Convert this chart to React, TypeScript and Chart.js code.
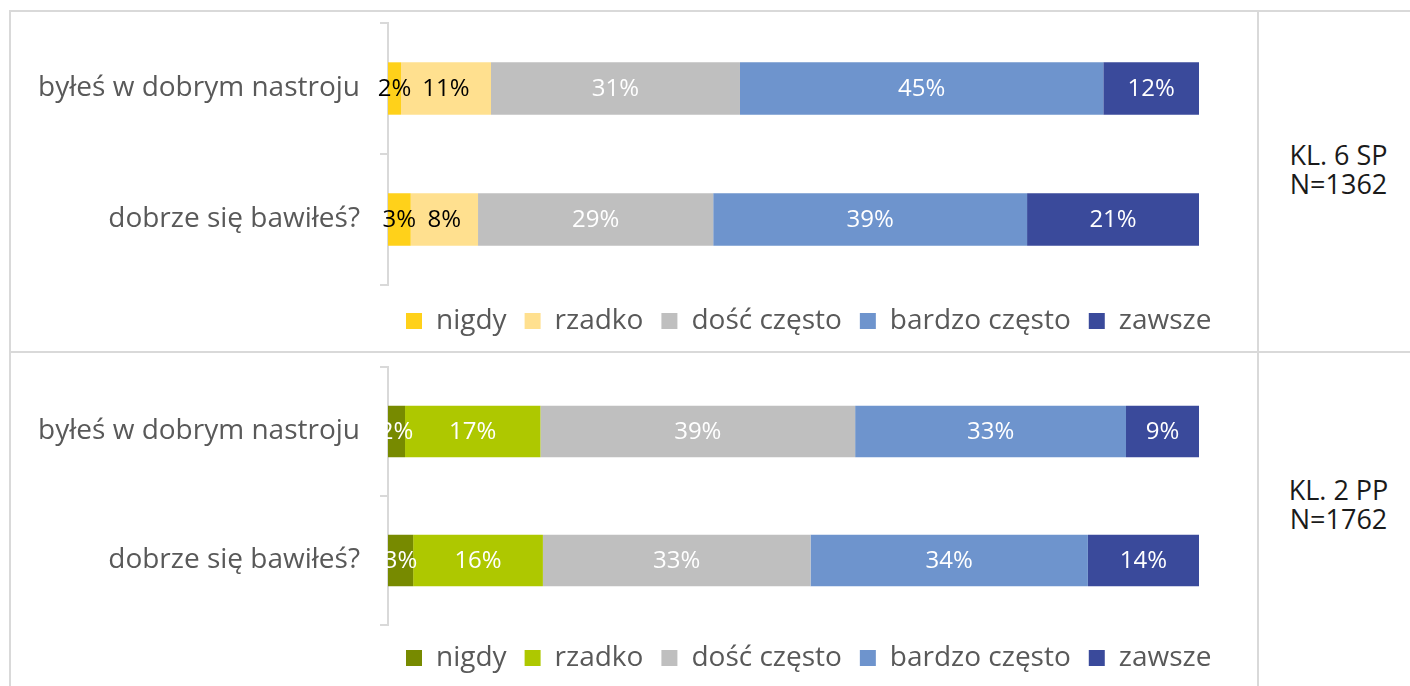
import React, { useEffect, useRef } from "react";
import { Chart, registerables } from "chart.js";

Chart.register(...registerables);

const categories = ["byłeś w dobrym nastroju", "dobrze się bawiłeś?"];
const seriesNames = ["nigdy", "rzadko", "dość często", "bardzo często", "zawsze"];

// KL. 6 SP
const sp6Nigdy = [1.6, 2.8];
const sp6Rzadko = [11.1, 8.3];
const sp6Dosc = [30.7, 29.0];
const sp6Bardzo = [44.8, 38.7];
const sp6Zawsze = [11.8, 21.2];

// KL. 2 PP
const pp2Nigdy = [2.1, 3.1];
const pp2Rzadko = [16.7, 16.0];
const pp2Dosc = [38.8, 33.0];
const pp2Bardzo = [33.4, 34.2];
const pp2Zawsze = [9.0, 13.7];

const groupLabels = [
  ["KL. 6 SP", "N=1362"],
  ["KL. 2 PP", "N=1762"],
];

const FONT = "'Open Sans', sans-serif";
const GRAY_TEXT = "#595959";
const LINE = "#d9d9d9";

const dataLabelPlugin = {
  id: "dataLabels",
  beforeDraw(chart: any) {
    const lg = chart.legend;
    const ca = chart.chartArea;
    if (lg && ca) {
      const h = lg.bottom - lg.top;
      lg.left = ca.left;
      lg.right = chart.width;
      lg.top = ca.bottom + chart.options.plugins.dataLabels.legendGap;
      lg.bottom = lg.top + h;
    }
  },
  afterDatasetsDraw(chart: any) {
    const ctx = chart.ctx;
    const colors: string[] = chart.options.plugins.dataLabels.colors;
    ctx.save();
    ctx.font = `24px ${FONT}`;
    ctx.textAlign = "center";
    ctx.textBaseline = "middle";
    chart.data.datasets.forEach((ds: any, i: number) => {
      const meta = chart.getDatasetMeta(i);
      meta.data.forEach((bar: any, j: number) => {
        const v = ds.data[j];
        const p = bar.getProps(["x", "y", "base"], true);
        ctx.fillStyle = colors[i];
        ctx.fillText(Math.round(v) + "%", (p.x + p.base) / 2, p.y + 1);
      });
    });
    ctx.restore();
  },
};

function StackChart(props: {
  series: number[][];
  colors: string[];
  labelColors: string[];
  padTop: number;
  padBottom: number;
  legendGap: number;
  style: React.CSSProperties;
}) {
  const ref = useRef<HTMLCanvasElement>(null);
  useEffect(() => {
    const chart = new Chart(ref.current as HTMLCanvasElement, {
      type: "bar",
      data: {
        labels: categories,
        datasets: props.series.map((d, i) => ({
          label: seriesNames[i],
          data: d,
          backgroundColor: props.colors[i],
          borderWidth: 0,
          barPercentage: 0.4,
          categoryPercentage: 1,
        })),
      },
      options: {
        animation: false,
        responsive: false,
        indexAxis: "y",
        layout: { padding: { top: props.padTop, right: 58, bottom: props.padBottom, left: 0 } },
        scales: {
          x: { stacked: true, min: 0, max: 100, display: false },
          y: {
            stacked: true,
            border: { display: true, color: LINE, width: 2 },
            grid: {
              offset: true,
              drawOnChartArea: false,
              drawTicks: true,
              tickLength: 8,
              color: LINE,
              lineWidth: 2,
            },
            ticks: {
              color: GRAY_TEXT,
              font: { family: FONT, size: 28 },
              padding: 20,
            },
            afterFit: (s: any) => {
              s.width = 377;
              s.paddingTop = 0;
              s.paddingBottom = 0;
            },
          },
        },
        plugins: {
          legend: {
            position: "bottom",
            align: "start",
            labels: {
              boxWidth: 16,
              boxHeight: 16,
              color: GRAY_TEXT,
              font: { family: FONT, size: 28 },
              padding: 18,
            },
          },
          tooltip: { enabled: false },
          dataLabels: { colors: props.labelColors, legendGap: props.legendGap },
        } as any,
      },
      plugins: [dataLabelPlugin],
    });
    return () => chart.destroy();
  }, []);
  const w = props.style.width as number;
  const h = props.style.height as number;
  return <canvas ref={ref} width={w} height={h} style={{ position: "absolute", ...props.style }} />;
}

export default function App() {
  const topColors = ["#ffd11a", "#ffe08f", "#bfbfbf", "#6e94cd", "#3a4a9b"];
  const botColors = ["#778a00", "#aec800", "#bfbfbf", "#6e94cd", "#3a4a9b"];
  const line = (l: number, t: number, w: number, h: number) => (
    <div style={{ position: "absolute", left: l, top: t, width: w, height: h, background: LINE }} />
  );
  const labelStyle = (top: number): React.CSSProperties => ({
    position: "absolute",
    left: 1263,
    width: 151,
    top,
    textAlign: "center",
    fontFamily: FONT,
    fontSize: 27,
    lineHeight: "29px",
    color: "#1a1a1a",
  });
  return (
    <div style={{ position: "fixed", left: 0, top: 0, width: 1410, height: 686, background: "#fff", overflow: "hidden" }}>
      {line(9, 10, 1401, 2)}
      {line(9, 10, 2, 676)}
      {line(9, 351, 1401, 2)}
      {line(1257, 10, 2, 676)}
      <StackChart
        series={[sp6Nigdy, sp6Rzadko, sp6Dosc, sp6Bardzo, sp6Zawsze]}
        colors={topColors}
        labelColors={["#000", "#000", "#fff", "#fff", "#fff"]}
        padTop={11}
        padBottom={10}
        legendGap={4}
        style={{ left: 11, top: 12, width: 1246, height: 339 }}
      />
      <StackChart
        series={[pp2Nigdy, pp2Rzadko, pp2Dosc, pp2Bardzo, pp2Zawsze]}
        colors={botColors}
        labelColors={["#fff", "#fff", "#fff", "#fff", "#fff"]}
        padTop={14}
        padBottom={5}
        legendGap={1}
        style={{ left: 11, top: 353, width: 1246, height: 333 }}
      />
      <div style={labelStyle(140)}>
        {groupLabels[0][0]}
        <br />
        {groupLabels[0][1]}
      </div>
      <div style={labelStyle(475)}>
        {groupLabels[1][0]}
        <br />
        {groupLabels[1][1]}
      </div>
    </div>
  );
}
